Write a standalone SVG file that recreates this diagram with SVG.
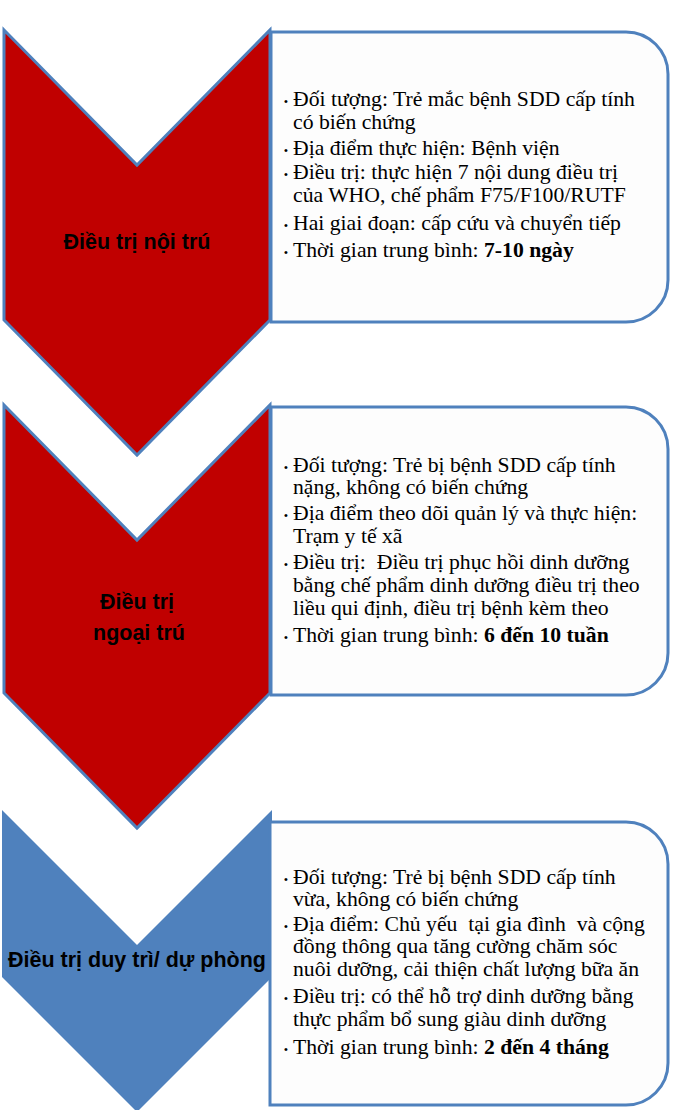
<svg xmlns="http://www.w3.org/2000/svg" width="673" height="1110" viewBox="0 0 673 1110">
<style>
.chev{stroke:#4F81BD;stroke-width:3;stroke-linejoin:miter}
.red{fill:#C00000}
.blue{fill:#4F81BD}
.box{fill:#FDFDFD;stroke:#4F81BD;stroke-width:3}
.lbl{font-family:"Liberation Sans",Arial,sans-serif;font-weight:bold;font-size:21.5px;fill:#000;text-anchor:middle}
.t{font-family:"Liberation Serif","Times New Roman",serif;font-size:21.7px;fill:#000}
.b{font-family:"Liberation Sans",Arial,sans-serif;font-size:11px;fill:#000}
.bold{font-weight:bold}
</style>
<rect width="673" height="1110" fill="#FFFFFF"/>
<g id="connectors"></g>

<g id="node1">
<path class="chev red" d="M4,30 L137,165 L270,30 L270,320 L137,455 L4,320 Z"/>
<text class="lbl" x="137" y="249">Điều trị nội trú</text>
</g>
<g id="box1">
<path class="box" d="M271,32 H626 A42,42 0 0 1 668,74 V280 A42,42 0 0 1 626,322 H271 Z"/>
<text class="b" x="284" y="105">•</text>
<text class="t" x="293" y="106">Đối tượng: Trẻ mắc bệnh SDD cấp tính</text>
<text class="t" x="293" y="129">có biến chứng</text>
<text class="b" x="284" y="154">•</text>
<text class="t" x="293" y="155">Địa điểm thực hiện: Bệnh viện</text>
<text class="b" x="284" y="178">•</text>
<text class="t" x="293" y="179">Điều trị: thực hiện 7 nội dung điều trị</text>
<text class="t" x="293" y="202">của WHO, chế phẩm F75/F100/RUTF</text>
<text class="b" x="284" y="229">•</text>
<text class="t" x="293" y="230">Hai giai đoạn: cấp cứu và chuyển tiếp</text>
<text class="b" x="284" y="256">•</text>
<text class="t" x="293" y="257">Thời gian trung bình: <tspan class="bold">7-10 ngày</tspan></text>
</g>

<g id="node2">
<path class="chev red" d="M4,405 L137,540 L270,405 L270,693 L137,828 L4,693 Z"/>
<text class="lbl" x="137" y="609">Điều trị</text>
<text class="lbl" x="139" y="640">ngoại trú</text>
</g>
<g id="box2">
<path class="box" d="M271,407 H626 A42,42 0 0 1 668,449 V653 A42,42 0 0 1 626,695 H271 Z"/>
<text class="b" x="284" y="471">•</text>
<text class="t" x="293" y="472">Đối tượng: Trẻ bị bệnh SDD cấp tính</text>
<text class="t" x="293" y="494">nặng, không có biến chứng</text>
<text class="b" x="284" y="519">•</text>
<text class="t" x="293" y="520">Địa điểm theo dõi quản lý và thực hiện:</text>
<text class="t" x="293" y="543">Trạm y tế xã</text>
<text class="b" x="284" y="568">•</text>
<text class="t" x="293" y="569" xml:space="preserve">Điều trị:  Điều trị phục hồi dinh dưỡng</text>
<text class="t" x="293" y="592">bằng chế phẩm dinh dưỡng điều trị theo</text>
<text class="t" x="293" y="615">liều qui định, điều trị bệnh kèm theo</text>
<text class="b" x="284" y="641">•</text>
<text class="t" x="293" y="642">Thời gian trung bình: <tspan class="bold">6 đến 10 tuần</tspan></text>
</g>

<g id="node3">
<path class="blue" d="M2,810 L137,945 L272,810 L272,977 L137,1112 L2,977 Z"/>
<text class="lbl" x="137" y="967">Điều trị duy trì/ dự phòng</text>
</g>
<g id="box3">
<path class="box" d="M270,822 H626 A42,42 0 0 1 668,864 V1063 A42,42 0 0 1 626,1105 H270 Z"/>
<text class="b" x="284" y="883">•</text>
<text class="t" x="293" y="884">Đối tượng: Trẻ bị bệnh SDD cấp tính</text>
<text class="t" x="293" y="906">vừa, không có biến chứng</text>
<text class="b" x="284" y="930">•</text>
<text class="t" x="293" y="931" xml:space="preserve">Địa điểm: Chủ yếu  tại gia đình  và cộng</text>
<text class="t" x="293" y="953">đồng thông qua tăng cường chăm sóc</text>
<text class="t" x="293" y="976">nuôi dưỡng, cải thiện chất lượng bữa ăn</text>
<text class="b" x="284" y="1002">•</text>
<text class="t" x="293" y="1003">Điều trị: có thể hỗ trợ dinh dưỡng bằng</text>
<text class="t" x="293" y="1026">thực phẩm bổ sung giàu dinh dưỡng</text>
<text class="b" x="284" y="1053">•</text>
<text class="t" x="293" y="1054">Thời gian trung bình: <tspan class="bold">2 đến 4 tháng</tspan></text>
</g>
</svg>
